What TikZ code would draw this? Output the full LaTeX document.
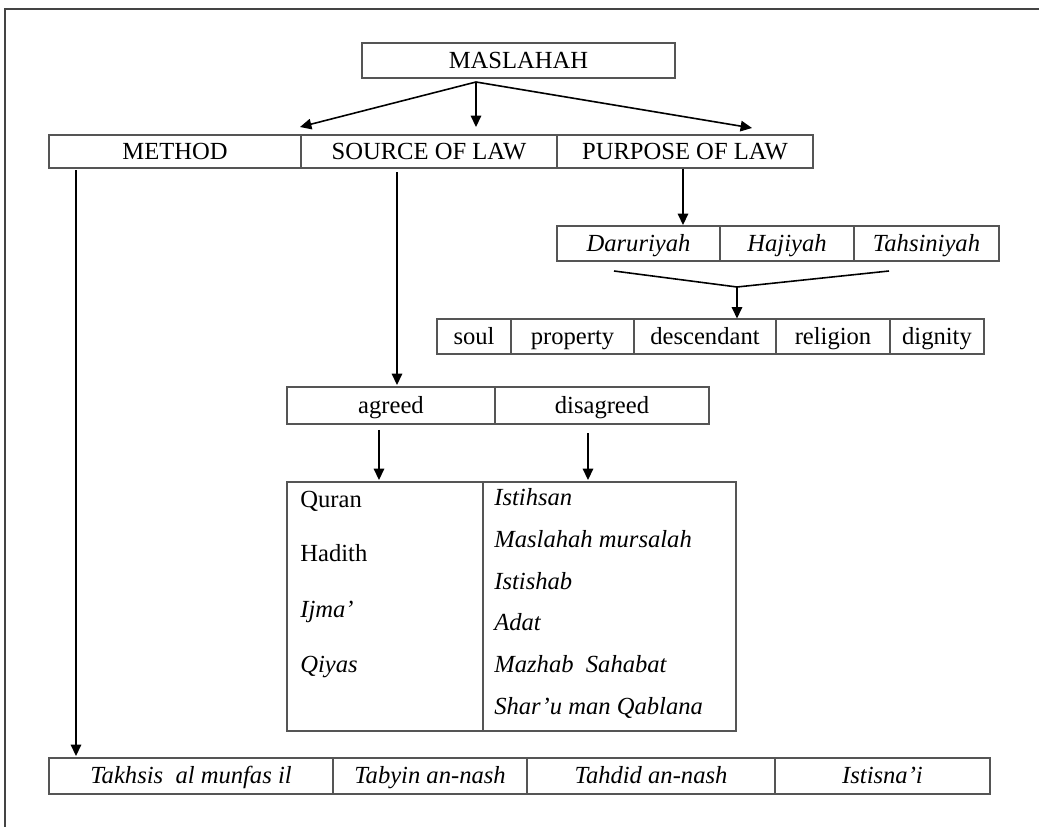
\documentclass[tikz,border=0pt]{standalone}
\usepackage{fontspec}
\setmainfont{Liberation Serif}
\usepackage{xcolor}
\usetikzlibrary{arrows.meta,fit}
\definecolor{boxgray}{HTML}{555555}
\definecolor{framegray}{HTML}{444444}

\begin{document}
\begin{tikzpicture}[x=0.02cm,y=-0.02cm,
  cell/.style={draw=boxgray,line width=0.6pt,inner sep=0pt},
  lbl/.style={inner sep=0pt,text height=11pt,text depth=2pt,font=\fontsize{14}{16}\selectfont},
  ilbl/.style={lbl,font=\fontsize{14}{16}\selectfont\itshape},
  item/.style={inner sep=0pt,anchor=west,text height=10.5pt,text depth=2.5pt,font=\fontsize{14}{16}\selectfont},
  arr/.style={-{Triangle[length=6.5pt,width=6pt]},line width=0.9pt},
  link/.style={line width=0.9pt}]
\useasboundingbox (0,0) rectangle (1039,827);
\draw[framegray,line width=1.1pt](1039,9)--(5,9)--(5,827);
% top
\node[cell,fit={(362,43)(675,78)},label={[lbl]center:MASLAHAH}](maslahah){};
\node[cell,fit={(49,135)(301,168)},label={[lbl]center:METHOD}](method){};
\node[cell,fit={(301,135)(557,168)},label={[lbl]center:SOURCE OF LAW}](source){};
\node[cell,fit={(557,135)(813,168)},label={[lbl]center:PURPOSE OF LAW}](purpose){};
\coordinate(fork)at(476,82);
\coordinate(tipL)at(300,127);
\coordinate(tipM)at(476,127);
\coordinate(tipR)at(752,128);
\draw[arr](fork)--(tipL);
\draw[arr](fork)--(tipM);
\draw[arr](fork)--(tipR);
% purpose of law
\node[cell,fit={(557,226)(720,261)},label={[ilbl]center:Daruriyah}](daruriyah){};
\node[cell,fit={(720,226)(854,261)},label={[ilbl]center:Hajiyah}](hajiyah){};
\node[cell,fit={(854,226)(999,261)},label={[ilbl]center:Tahsiniyah}](tahsiniyah){};
\coordinate(pp)at(683,225);
\draw[arr](pp |- purpose.south)--(pp);
\node[cell,fit={(437,319)(511,354)},label={[lbl]center:soul}](soul){};
\node[cell,fit={(511,319)(634,354)},label={[lbl]center:property}](property){};
\node[cell,fit={(634,319)(776,354)},label={[lbl]center:descendant}](descendant){};
\node[cell,fit={(776,319)(890,354)},label={[lbl]center:religion}](religion){};
\node[cell,fit={(890,319)(984,354)},label={[lbl]center:dignity}](dignity){};
\coordinate(mL)at(614,271);
\coordinate(mC)at(737,287);
\coordinate(mR)at(889,271);
\draw[link](mL)--(mC)--(mR);
\draw[arr](mC)--(mC |- descendant.north);
% source of law
\node[cell,fit={(287,387)(495,424)},label={[lbl]center:agreed}](agreed){};
\node[cell,fit={(495,387)(709,424)},label={[lbl]center:disagreed}](disagreed){};
\coordinate(sp)at(397,385);
\draw[arr]([yshift=-2pt]sp |- source.south)--(sp);
\node[cell,fit={(287,482)(483,731)}](agreedlist){};
\node[cell,fit={(483,482)(736,731)}](disagreedlist){};
\coordinate(ap)at(379,480);
\coordinate(dp)at(588,480);
\draw[arr]([yshift=-3pt]ap |- agreed.south)--(ap);
\draw[arr]([yshift=-5pt]dp |- disagreed.south)--(dp);
\foreach \nm/\y/\t in {quran/500/Quran,hadith/554/Hadith,ijma/610/\textit{Ijma’},qiyas/665/\textit{Qiyas}}
  \node[item](\nm)at(300,\y){\t};
\foreach \nm/\y/\t in {istihsan/498/Istihsan,mursalah/540/Maslahah mursalah,istishab/582/Istishab,adat/623/Adat,sahabat/665/Mazhab\ \ Sahabat,qablana/707/Shar’u man Qablana}
  \node[item,font=\fontsize{14}{16}\selectfont\itshape](\nm)at(494,\y){\t};
% method
\node[cell,fit={(49,758)(333,794)},label={[ilbl]center:Takhsis\ \ al munfas il}](takhsis){};
\node[cell,fit={(333,758)(527,794)},label={[ilbl]center:Tabyin an-nash}](tabyin){};
\node[cell,fit={(527,758)(775,794)},label={[ilbl]center:Tahdid an-nash}](tahdid){};
\node[cell,fit={(775,758)(990,794)},label={[ilbl]center:Istisna’i}](istisna){};
\coordinate(mp)at(76,756);
\draw[arr]([yshift=-1pt]mp |- method.south)--(mp);
\end{tikzpicture}
\end{document}
